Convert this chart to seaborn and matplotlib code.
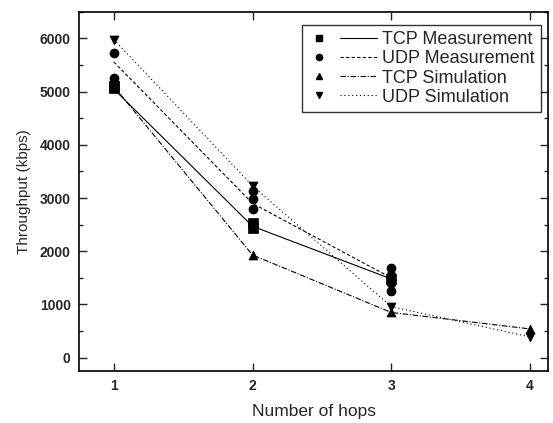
"""Throughput versus number of hops, TCP/UDP measurement and simulation."""

import matplotlib
matplotlib.use("Agg")
import matplotlib.pyplot as plt
import numpy as np
import pandas as pd
import seaborn as sns
from matplotlib.lines import Line2D
from matplotlib.legend_handler import HandlerBase
from matplotlib.ticker import MultipleLocator

# Individual measured / simulated points
tcp_meas_x = [1, 1, 2, 2, 3]
tcp_meas_y = [5060, 5110, 2440, 2530, 1470]
udp_meas_x = [1, 1, 1, 2, 2, 2, 3, 3, 3, 3]
udp_meas_y = [5180, 5250, 5730, 2790, 2980, 3140, 1250, 1400, 1550, 1680]
tcp_sim_x = [1, 2, 3, 4]
tcp_sim_y = [5100, 1930, 850, 540]
udp_sim_x = [1, 2, 3, 4]
udp_sim_y = [5980, 3230, 960, 390]

# Lines drawn through the series
tcp_meas_line_x = [1, 2, 3]
tcp_meas_line_y = [5050, 2470, 1480]
udp_meas_line_x = [1, 2, 3]
udp_meas_line_y = [5560, 2900, 1500]

series = ["TCP Measurement", "UDP Measurement", "TCP Simulation", "UDP Simulation"]
markers = ["s", "o", "^", "v"]
dashes = [(None, None), (3, 2), (5, 1.5, 1, 1.5), (1, 2.5)]

points = pd.concat([
    pd.DataFrame({"hops": tcp_meas_x, "tp": tcp_meas_y, "series": series[0]}),
    pd.DataFrame({"hops": udp_meas_x, "tp": udp_meas_y, "series": series[1]}),
    pd.DataFrame({"hops": tcp_sim_x, "tp": tcp_sim_y, "series": series[2]}),
    pd.DataFrame({"hops": udp_sim_x, "tp": udp_sim_y, "series": series[3]}),
], ignore_index=True)

lines = pd.concat([
    pd.DataFrame({"hops": tcp_meas_line_x, "tp": tcp_meas_line_y, "series": series[0]}),
    pd.DataFrame({"hops": udp_meas_line_x, "tp": udp_meas_line_y, "series": series[1]}),
    pd.DataFrame({"hops": tcp_sim_x, "tp": tcp_sim_y, "series": series[2]}),
    pd.DataFrame({"hops": udp_sim_x, "tp": udp_sim_y, "series": series[3]}),
], ignore_index=True)

sns.set_style("ticks")
plt.rcParams["font.family"] = ["Liberation Sans", "DejaVu Sans"]

fig, ax = plt.subplots(figsize=(5.53, 4.23), dpi=100)
fig.subplots_adjust(left=0.143, right=0.991, top=0.972, bottom=0.123)

# Lines, one style per series
for name, dsh in zip(series, dashes):
    sub = lines[lines["series"] == name]
    sns.lineplot(data=sub, x="hops", y="tp", color="black", linewidth=0.8,
                 ax=ax, legend=False, estimator=None, sort=False)
    if dsh[0] is not None:
        ax.lines[-1].set_dashes(dsh)

# Markers (squares first so circles sit on top)
for name, mk in zip(series, markers):
    sub = points[points["series"] == name]
    sns.scatterplot(data=sub, x="hops", y="tp", marker=mk, color="black",
                    s=42, edgecolor="black", linewidth=0.5, ax=ax, legend=False, zorder=3)

ax.set_xlim(0.75, 4.13)
ax.set_ylim(-250, 6500)
ax.xaxis.set_major_locator(MultipleLocator(1))
ax.yaxis.set_major_locator(MultipleLocator(1000))
ax.yaxis.set_minor_locator(MultipleLocator(500))
ax.tick_params(which="both", direction="in", top=True, right=True, width=1)
ax.tick_params(which="major", length=6, labelsize=10, pad=6)
ax.tick_params(which="minor", length=3)
for lbl in ax.get_xticklabels() + ax.get_yticklabels():
    lbl.set_fontweight("bold")
for sp in ax.spines.values():
    sp.set_linewidth(1.2)
    sp.set_color("black")

ax.set_xlabel("Number of hops", fontsize=12.5, labelpad=8)
ax.set_ylabel("Throughput (kbps)", fontsize=11, labelpad=6)


class MarkerThenLine(HandlerBase):
    """Origin-style legend entry: marker on the left, line sample on the right."""

    def create_artists(self, legend, orig_handle, xdescent, ydescent,
                       width, height, fontsize, trans):
        mk, dsh = orig_handle
        y = height / 2 - ydescent
        x0 = -xdescent
        m = Line2D([x0 + 0.15 * width], [y], marker=mk, color="black",
                   linestyle="none", markersize=4.5, transform=trans)
        l = Line2D([x0 + 0.46 * width, x0 + width], [y, y], color="black",
                   linewidth=0.8, transform=trans)
        if dsh[0] is not None:
            l.set_dashes(dsh)
        return [m, l]


handles = [(mk, dsh) for mk, dsh in zip(markers, dashes)]
leg = ax.legend(handles, series, handler_map={tuple: MarkerThenLine()},
                loc="upper right", bbox_to_anchor=(541 / 553, 1 - 25 / 423),
                bbox_transform=fig.transFigure, borderaxespad=0,
                fontsize=13, handlelength=3.8, handletextpad=0.28,
                labelspacing=0.12, borderpad=0.35, frameon=True, fancybox=False)
leg.get_frame().set_edgecolor("black")
leg.get_frame().set_linewidth(1.0)

fig.savefig("out.png", dpi=100)
